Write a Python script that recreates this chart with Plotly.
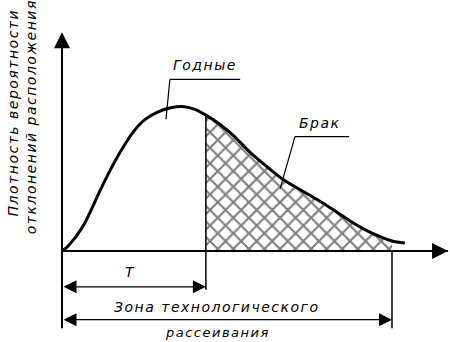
import numpy as np
import plotly.graph_objects as go

# кривая плотности вероятности (условные единицы)
x_curve = [0, 1.2, 2.4, 4.5, 7.0, 9.1, 11.5, 14.5, 17.6, 21.5, 25.2, 28.8, 32.7, 36.4,
           40.3, 43.6, 47.9, 51.8, 57.0, 62.1, 67.0, 72.1, 77.3, 82.1, 87.3, 91.8,
           96.4, 100.0, 103.9]
y_curve = [0, 0.02, 0.05, 0.11, 0.20, 0.30, 0.42, 0.56, 0.69, 0.83, 0.92, 0.97, 1.00, 1.01,
           0.99, 0.95, 0.885, 0.81, 0.69, 0.59, 0.50, 0.43, 0.36, 0.29, 0.21, 0.15,
           0.10, 0.07, 0.056]

T = 43.6          # допуск
zona = 100.0      # зона технологического рассеивания

FONT = dict(family="DejaVu Sans", size=14, color="black")
SP = '<span style="letter-spacing:1.5px;font-style:italic">{}</span>'

fig = go.Figure()

# брак - штриховка справа от T
xb = [x for x in x_curve if T <= x <= zona]
yb = [float(np.interp(x, x_curve, y_curve)) for x in xb]
fig.add_trace(go.Scatter(x=[T] + xb + [zona], y=[0] + yb + [0], mode="lines",
                         fill="toself", fillcolor="white", line=dict(width=0),
                         fillpattern=dict(shape="x", size=11, solidity=0.36,
                                          fgcolor="black", bgcolor="white"),
                         hoverinfo="skip"))

# сама кривая
fig.add_trace(go.Scatter(x=x_curve, y=y_curve, mode="lines",
                         line=dict(color="black", width=3, shape="spline", smoothing=0.8),
                         hoverinfo="skip"))

yT = float(np.interp(T, x_curve, y_curve))

shapes = [
    # ось X
    dict(type="line", x0=0, y0=0, x1=117, y1=0, line=dict(color="black", width=2)),
    # граница T
    dict(type="line", x0=T, y0=yT, x1=T, y1=-0.27, line=dict(color="black", width=1.5)),
    # выносная линия зоны
    dict(type="line", x0=zona, y0=0, x1=zona, y1=-0.54, line=dict(color="black", width=1.5)),
    # выноски
    dict(type="line", x0=32.7, y0=1.2, x1=54, y1=1.2, line=dict(color="black", width=1.2)),
    dict(type="line", x0=32.7, y0=1.2, x1=31.5, y1=float(np.interp(31.5, x_curve, y_curve)) - 0.07,
         line=dict(color="black", width=1.2)),
    dict(type="line", x0=70.6, y0=0.8, x1=87, y1=0.8, line=dict(color="black", width=1.2)),
    dict(type="line", x0=70.6, y0=0.8, x1=66.1, y1=float(np.interp(66.1, x_curve, y_curve)) - 0.08,
         line=dict(color="black", width=1.2)),
]

arrow = dict(text="", showarrow=True, xref="x", yref="y", axref="x", ayref="y",
             arrowcolor="black")
annotations = [
    # ось Y со стрелкой
    dict(arrow, x=0, y=1.53, ax=0, ay=-0.55, arrowhead=2, arrowwidth=2, arrowsize=1.6),
    # стрелка оси X
    dict(arrow, x=117, y=0, ax=105, ay=0, arrowhead=2, arrowwidth=2, arrowsize=1.6),
    # размер T
    dict(arrow, x=T, y=-0.25, ax=0, ay=-0.25, arrowhead=2, arrowwidth=1.3, arrowsize=2,
         arrowside="end+start"),
    # размер зоны
    dict(arrow, x=zona, y=-0.48, ax=0, ay=-0.48, arrowhead=2, arrowwidth=1.3, arrowsize=2,
         arrowside="end+start"),
    dict(x=43.3, y=1.30, text=SP.format("Годные"), showarrow=False, font=FONT),
    dict(x=78.2, y=0.895, text=SP.format("Брак"), showarrow=False, font=FONT),
    dict(x=20.6, y=-0.15, text=SP.format("T"), showarrow=False, font=FONT),
    dict(x=47, y=-0.39, text=SP.format("Зона технологического"), showarrow=False, font=FONT),
    dict(x=47, y=-0.568, text=SP.format("рассеивания"), showarrow=False,
         font=dict(FONT, size=13)),
    dict(x=-14.8, y=0.97, text=SP.format("Плотность вероятности"), showarrow=False,
         font=FONT, textangle=-90),
    dict(x=-9.5, y=0.94, text=SP.format("отклонений расположения"), showarrow=False,
         font=FONT, textangle=-90),
]

fig.update_layout(
    width=450, height=342, margin=dict(l=0, r=0, t=0, b=0),
    paper_bgcolor="white", plot_bgcolor="white", showlegend=False,
    xaxis=dict(range=[-18.79, 117.58], visible=False),
    yaxis=dict(range=[-0.636, 1.755], visible=False),
    shapes=shapes, annotations=annotations,
)

# убираем отступ body, чтобы рисунок начинался с (0,0)
fig.write_html("out.html", config={"displayModeBar": False},
               post_script="document.body.style.margin='0';")
